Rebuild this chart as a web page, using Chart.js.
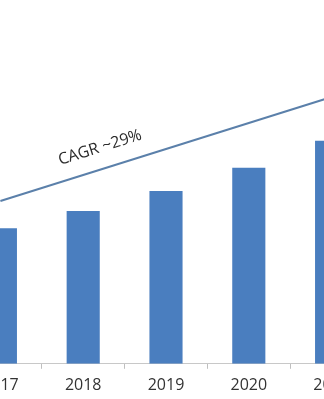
<!DOCTYPE html>
<html>
<head>
<meta charset="utf-8">
<script src="https://cdn.jsdelivr.net/npm/chart.js@4.4.1/dist/chart.umd.min.js"></script>
<style>
  html, body { margin: 0; padding: 0; background: #ffffff; overflow: hidden; }
  #wrap { position: relative; width: 324px; height: 399px; overflow: hidden; }
  #box { position: absolute; left: -41px; top: 0; width: 414px; height: 402px; }
</style>
</head>
<body>
<div id="wrap">
  <div id="box"><canvas id="market-chart"></canvas></div>
</div>
<script>
const years = ["2017", "2018", "2019", "2020", "2021"];
const marketSize = [1.35, 1.52, 1.72, 1.95, 2.22];
// trend line drawn from first to last year
const trendLine = [1.62, null, null, null, 2.655];
const cagrLabel = "CAGR ~29%";

// writes the CAGR text just above the trend line
const cagrText = {
  id: "cagrText",
  afterDatasetsDraw(chart) {
    const x = chart.scales.x;
    const y = chart.scales.y;
    const x0 = x.getPixelForValue(0), y0 = y.getPixelForValue(trendLine[0]);
    const x1 = x.getPixelForValue(4), y1 = y.getPixelForValue(trendLine[4]);
    const angle = Math.atan2(y1 - y0, x1 - x0);
    const t = 0.32;
    const px = x0 + (x1 - x0) * t + Math.sin(angle) * 21;
    const py = y0 + (y1 - y0) * t - Math.cos(angle) * 21;
    const c = chart.ctx;
    c.save();
    c.translate(px, py);
    c.rotate(angle);
    c.font = "16px 'Open Sans'";
    c.fillStyle = "#2b2b2b";
    c.textAlign = "center";
    c.textBaseline = "middle";
    c.fillText(cagrLabel, 0, 0);
    c.restore();
  },
};

const ctx = document.getElementById("market-chart");
const chart = new Chart(ctx, {
  type: "bar",
  data: {
    labels: years,
    datasets: [
      {
        type: "line",
        data: trendLine,
        borderColor: "#5b80aa",
        borderWidth: 2,
        pointRadius: 0,
        spanGaps: true,
        fill: false,
      },
      {
        data: marketSize,
        backgroundColor: "#4a7ebf",
        borderWidth: 0,
        categoryPercentage: 0.4,
        barPercentage: 1.0,
      },
    ],
  },
  options: {
    responsive: true,
    maintainAspectRatio: false,
    animation: false,
    layout: { padding: { top: 0, bottom: 0, left: 0, right: 0 } },
    plugins: {
      legend: { display: false },
      tooltip: { enabled: false },
    },
    scales: {
      x: {
        offset: true,
        grid: {
          display: true,
          offset: true,
          drawOnChartArea: false,
          drawTicks: true,
          tickLength: 5,
          color: "#bfbfbf",
        },
        border: { display: true, color: "#c8c8c8", width: 1 },
        ticks: {
          color: "#333333",
          font: { family: "'Open Sans'", size: 16 },
          padding: 7,
          maxRotation: 0,
        },
      },
      y: {
        display: false,
        min: 0,
        max: 3.62,
      },
    },
  },
  plugins: [cagrText],
});
</script>
</body>
</html>
